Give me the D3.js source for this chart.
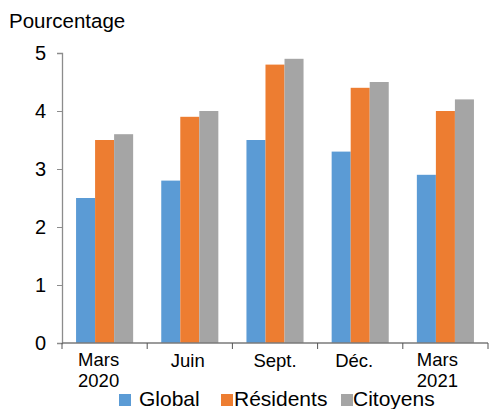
<!DOCTYPE html>
<html>
<head>
<meta charset="utf-8">
<script src="https://cdn.jsdelivr.net/npm/d3@7"></script>
<style>
  html, body { margin: 0; padding: 0; background: #fff; }
  svg { display: block; font-family: "Liberation Sans", Arial, sans-serif; }
</style>
</head>
<body>
<svg id="chart" width="490" height="409"></svg>
<script>
// Quarterly rates, in percent
const categories = [["Mars", "2020"], ["Juin"], ["Sept."], ["Déc."], ["Mars", "2021"]];
const seriesNames = ["Global", "Résidents", "Citoyens"];
const globalValues = [2.5, 2.8, 3.5, 3.3, 2.9];
const residentValues = [3.5, 3.9, 4.8, 4.4, 4.0];
const citizenValues = [3.6, 4.0, 4.9, 4.5, 4.2];
const yTicks = [0, 1, 2, 3, 4, 5];

const colors = ["#5B9BD5", "#ED7D31", "#A5A5A5"];
const seriesValues = [globalValues, residentValues, citizenValues];
const rows = categories.map((c, i) => ({
  key: c.join(" "),
  lines: c,
  values: seriesValues.map((s, j) => ({ name: seriesNames[j], value: s[i], color: colors[j] }))
}));

const svg = d3.select("#chart");
const plot = { left: 62, right: 488, top: 53, bottom: 343 };

const y = d3.scaleLinear().domain([0, 5]).range([plot.bottom, plot.top]);
const x = d3.scaleBand()
  .domain(rows.map(r => r.key))
  .range([plot.left, plot.right])
  .paddingInner(0.33)
  .paddingOuter(0.165);
const xInner = d3.scaleBand().domain(seriesNames).range([0, x.bandwidth()]);

// Axis title
svg.append("text")
  .attr("x", 9).attr("y", 28)
  .attr("font-size", 20.5).attr("fill", "#000")
  .text("Pourcentage");

// Bars
const groups = svg.append("g").selectAll("g")
  .data(rows).join("g")
  .attr("transform", d => `translate(${x(d.key)},0)`);
groups.selectAll("rect")
  .data(d => d.values).join("rect")
  .attr("x", d => xInner(d.name))
  .attr("width", xInner.bandwidth())
  .attr("y", d => y(d.value))
  .attr("height", d => y(0) - y(d.value))
  .attr("fill", d => d.color);

// Y axis
const yAxis = svg.append("g")
  .attr("transform", `translate(${plot.left},0)`)
  .call(d3.axisLeft(y).tickValues(yTicks).tickFormat(d3.format("d")).tickSize(5).tickPadding(11));
yAxis.select(".domain").attr("stroke", "#8c8c8c").attr("stroke-width", 1.3);
yAxis.selectAll(".tick line").attr("stroke", "#8c8c8c");
yAxis.selectAll(".tick text")
  .attr("font-size", 20).attr("fill", "#000")
  .attr("font-family", "Liberation Sans, Arial, sans-serif");

// X axis: baseline with ticks at category boundaries
const xAxis = svg.append("g");
xAxis.append("line")
  .attr("x1", plot.left).attr("x2", plot.right)
  .attr("y1", y(0)).attr("y2", y(0))
  .attr("stroke", "#7a7a7a").attr("stroke-width", 1.3);
const boundaries = rows.map(r => x(r.key) - x.step() * x.paddingInner() / 2)
  .concat([plot.right]);
xAxis.selectAll("line.tick")
  .data(boundaries).join("line")
  .attr("class", "tick")
  .attr("x1", d => d).attr("x2", d => d)
  .attr("y1", y(0)).attr("y2", y(0) + 6)
  .attr("stroke", "#555");

// Category labels
const labelNudge = [-6, -2, 0, -6, -8];
const labels = xAxis.selectAll("text.cat")
  .data(rows).join("text")
  .attr("class", "cat")
  .attr("text-anchor", "middle")
  .attr("font-size", 18.5).attr("fill", "#000")
  .attr("transform", (d, i) => `translate(${x(d.key) + x.bandwidth() / 2 + labelNudge[i]},0)`);
labels.each(function(d) {
  const t = d3.select(this);
  const first = d.lines.length > 1 ? 366 : 367;
  d.lines.forEach((line, k) => {
    t.append("tspan").attr("x", 0).attr("y", first + k * 21).text(line);
  });
});

// Legend
const legendX = [119, 221, 341];
const legend = svg.append("g").selectAll("g")
  .data(seriesNames).join("g")
  .attr("transform", (d, i) => `translate(${legendX[i]},0)`);
legend.append("rect")
  .attr("x", 0).attr("y", 394).attr("width", 12).attr("height", 12)
  .attr("fill", (d, i) => colors[i]);
legend.append("text")
  .attr("x", (d, i) => [20, 13, 12][i]).attr("y", 406)
  .attr("font-size", 21).attr("fill", "#000")
  .text(d => d);
</script>
</body>
</html>
